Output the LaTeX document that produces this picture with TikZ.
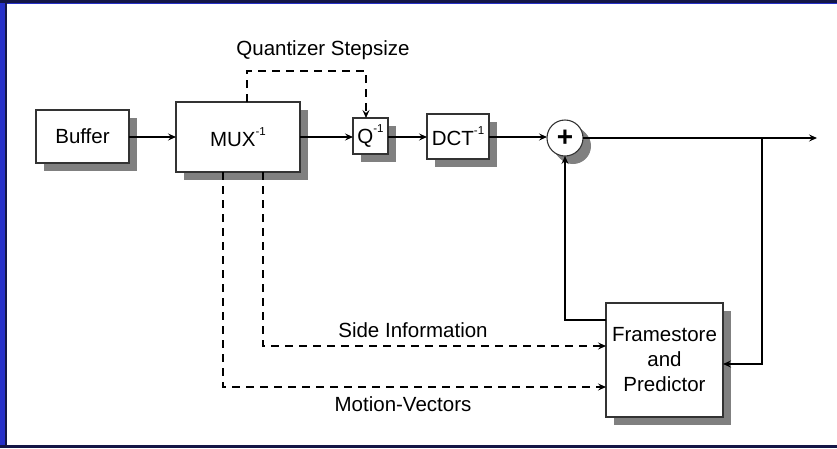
\documentclass[tikz,border=0pt]{standalone}
\usepackage{fontspec}
\setmainfont{Liberation Sans}
\usetikzlibrary{arrows.meta,shadows,calc}
\definecolor{slideblue}{RGB}{38,48,200}
\definecolor{navy}{RGB}{20,22,70}
\definecolor{shadowgray}{RGB}{128,128,128}
\newcommand{\supm}{\raisebox{0.55em}{\fontsize{11.5}{11.5}\selectfont -1}}
\tikzset{
  blk/.style={draw=black!80, line width=1.1pt, fill=white, inner sep=0pt, outer sep=0pt,
    align=center, font=\fontsize{20.5}{25}\selectfont,
    drop shadow={shadow xshift=8pt, shadow yshift=-8pt, fill=shadowgray, opacity=1}},
  conn/.style={line width=2.6pt, draw=black},
  dconn/.style={line width=2.6pt, draw=black, dash pattern=on 8pt off 6pt},
  tip/.style={-{Stealth[open, length=8pt, width=7pt, inset=3pt, line width=1.1pt, fill=white]}},
  lbl/.style={font=\fontsize{20.5}{25}\selectfont, inner sep=0pt}
}
\begin{document}
\begin{tikzpicture}[x=1pt,y=-1pt]
\useasboundingbox (0,0) rectangle (837,448);
% slide background
\fill[slideblue] (0,0) rectangle (837,448);
\fill[navy] (0,0) rectangle (837,3);
\fill[navy] (0,445) rectangle (837,448);
\fill[navy] (5,3) rectangle (7,445);
\fill[white] (7,4) rectangle (837,445);
% blocks
\node[blk, minimum width=93pt, minimum height=53pt] (buf) at (82.5,136.5) {Buffer};
\node[blk, minimum width=124pt, minimum height=70pt] (mux) at (238,137) {MUX\supm};
\node[blk, minimum width=35pt, minimum height=36pt] (q) at (370.5,136) {Q\supm};
\node[blk, minimum width=62pt, minimum height=45pt] (dct) at (458,136.5) {DCT\supm};
\node[blk, circle, minimum size=36pt, font=\fontsize{28}{28}\bfseries, drop shadow={shadow xshift=6pt, shadow yshift=-6pt, fill=shadowgray, opacity=1}] (sum) at (565,138) {+};
\node[blk, minimum width=117pt, minimum height=114pt] (fs) at (664.5,360) {Framestore\\and\\Predictor};
% coordinates
\coordinate (out) at (817,138);
\coordinate (br) at (762,138);
\coordinate (fb) at (606,320);
\coordinate (si) at (263,346);
\coordinate (mv) at (223,387);
\coordinate (qa) at (247,71);
\coordinate (qb) at (366,71);
% solid connectors
\draw[conn, tip] (buf.east |- 0,137) -- (mux.west |- 0,137);
\draw[conn, tip] (mux.east |- 0,137) -- (q.west |- 0,137);
\draw[conn, tip] (q.east |- 0,137) -- (dct.west |- 0,137);
\draw[conn, tip] (dct.east |- 0,137) -- (sum.west |- 0,137);
\draw[conn, tip] (sum.east) -- (out);
\draw[conn, tip] (br) |- (fs.east |- 0,364);
\draw[conn, tip] (fb) -| (sum.south);
% dashed connectors
\draw[dconn, tip] (mux.north -| qa) -- (qa) -- (qb) -- (q.north -| qb);
\draw[dconn, tip] (mux.south -| si) |- (fs.west |- si);
\draw[dconn, tip] (mux.south -| mv) |- (fs.west |- mv);
% labels
\node[lbl] (lq) at (323,50) {Quantizer Stepsize};
\node[lbl] (lsi) at (413,330) {Side Information};
\node[lbl] (lmv) at (403,404) {Motion-Vectors};
\end{tikzpicture}
\end{document}
